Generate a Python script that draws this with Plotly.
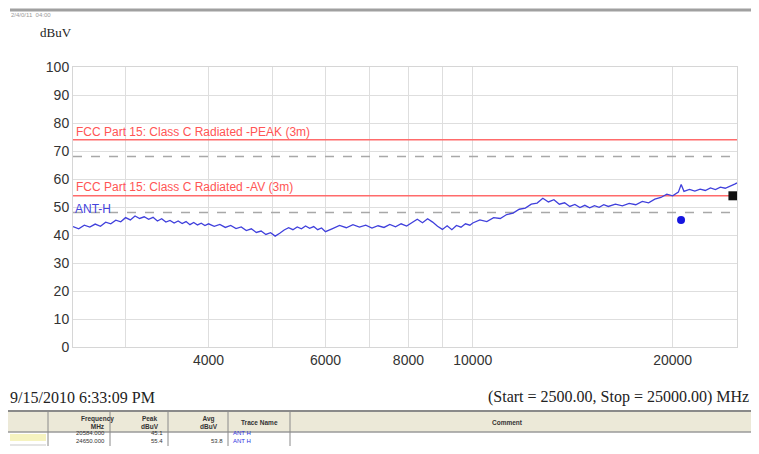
import plotly.graph_objects as go

# sweep data (ANT-H trace)
freq = [
    2500, 2550, 2600, 2650, 2700, 2750, 2800, 2850, 2900, 2950,
    3000, 3050, 3100, 3150, 3200, 3250, 3300, 3350, 3400, 3450,
    3500, 3550, 3600, 3650, 3700, 3750, 3800, 3850, 3900, 3950,
    4000, 4080, 4160, 4240, 4320, 4400, 4480, 4560, 4640, 4720,
    4800, 4880, 4960, 5040, 5120, 5200, 5280, 5360, 5440, 5520,
    5600, 5680, 5760, 5840, 5920,
    6000, 6150, 6300, 6450, 6600, 6750, 6900, 7050, 7200, 7350,
    7500, 7650, 7800, 7950, 8100, 8250, 8400, 8550, 8700, 8850,
    9000, 9150, 9300, 9450, 9600, 9750, 9900,
    10000, 10250, 10500, 10750, 11000, 11250, 11500, 11750, 12000, 12250,
    12500, 12750, 13000, 13250, 13500, 13750, 14000, 14250, 14500, 14750,
    15000, 15250, 15500, 15750,
    16000, 16400, 16800, 17200, 17600, 18000, 18400, 18800, 19200, 19600,
    20000, 20400, 20600, 20800, 21200, 21600, 22000, 22400, 22800, 23200,
    23600, 24000, 24400, 24800, 25000,
]
level = [
    43.0, 42.2, 43.5, 42.8, 43.9, 43.1, 44.6, 44.0, 45.3, 44.7,
    46.2, 45.4, 46.8, 45.9, 46.5, 45.6, 46.3, 45.0, 45.8, 44.6,
    45.2, 44.3, 45.0, 44.1, 44.8, 43.7, 44.5, 43.6, 44.2, 43.4,
    44.0, 43.1, 43.8, 42.7, 43.4, 42.3, 42.9, 41.6, 42.2, 40.9,
    41.4, 40.2, 40.8, 39.6, 40.6, 41.8, 42.6, 41.9, 42.9, 42.2,
    43.2, 42.4, 43.0, 41.9, 42.5,
    41.2, 42.3, 43.4, 42.6, 43.7, 42.8, 43.5, 42.5, 43.3, 42.7,
    43.8, 42.9, 44.0, 43.2, 44.3, 45.6, 44.4, 45.8, 44.6, 43.1,
    42.0, 43.3, 41.9, 43.4, 42.8, 44.0, 43.5,
    44.3, 45.4, 44.8, 46.2, 45.9, 47.3, 47.8, 49.2, 49.6, 51.0,
    51.4, 53.1, 51.8, 52.6, 51.0, 51.5, 50.2, 50.9, 49.8, 50.6,
    49.7, 50.5, 49.9, 50.8,
    50.2, 51.0, 50.4, 51.3, 50.8, 52.0, 51.5, 52.8, 53.4, 54.6,
    54.0, 55.3, 58.0, 55.6, 56.3, 55.7, 56.4, 55.9, 56.8, 56.2,
    57.1, 56.7, 57.6, 58.2, 58.6,
]

span = [2500, 25000]
peak_limit = 74
peak_margin = 68
av_limit = 54
av_margin = 48

# marker readings
pk_freq, pk_level = [20590], [45.4]
av_freq, av_level = [24650], [54.0]

xtick_vals = [3000, 4000, 5000, 6000, 7000, 8000, 9000, 10000, 20000]
xtick_text = ["", "4000", "", "6000", "", "8000", "", "10000", "20000"]

# table below the chart
tbl_headers = ["", "Frequency<br>MHz", "Peak<br>dBuV", "Avg<br>dBuV", "Trace Name", "Comment"]
tbl_row1 = ["", "20584.000", "45.1", "", "ANT H", ""]
tbl_row2 = ["", "24650.000", "55.4", "53.8", "ANT H", ""]
tbl_edges = [8, 48, 110, 168, 228, 290, 759]

# the page keeps an 8px body margin, so the figure is window size minus 16
W, H = 743, 438
OFF = 8


def px(x):
    # window pixel -> paper fraction
    return (x - OFF) / W


def py(y):
    return 1 - (y - OFF) / H


fig = go.Figure()

for val, col, dash in [(peak_limit, "#ff6b6b", "solid"), (peak_margin, "#a8a8a8", "dash"),
                       (av_limit, "#ff6b6b", "solid"), (av_margin, "#a8a8a8", "dash")]:
    fig.add_trace(go.Scatter(x=span, y=[val, val], mode="lines",
                             line=dict(color=col, width=1.5, dash=dash),
                             showlegend=False, hoverinfo="skip"))

fig.add_trace(go.Scatter(x=freq, y=level, mode="lines",
                         line=dict(color="#4040dc", width=1.3), showlegend=False))
fig.add_trace(go.Scatter(x=pk_freq, y=pk_level, mode="markers",
                         marker=dict(color="#1515e0", size=8, symbol="circle"),
                         showlegend=False))
fig.add_trace(go.Scatter(x=av_freq, y=av_level, mode="markers",
                         marker=dict(color="#111111", size=9, symbol="square"),
                         showlegend=False))

axis_font = dict(family="Liberation Sans, Arial", size=14, color="#333333")
fig.update_xaxes(type="log", range=[3.39794, 4.39794], domain=[px(73), px(737)],
                 tickvals=xtick_vals, ticktext=xtick_text, tickfont=axis_font,
                 showgrid=True, gridcolor="#dedede", gridwidth=1,
                 showline=True, linecolor="#d6d6d6", mirror=True,
                 ticks="", zeroline=False, automargin=False)
fig.update_yaxes(range=[0, 100], dtick=10, domain=[py(347), py(67)],
                 tickfont=axis_font, showgrid=True, gridcolor="#dedede",
                 showline=True, linecolor="#d6d6d6", mirror=True,
                 ticks="", zeroline=False, automargin=False)

serif = "Liberation Serif, Times New Roman"
sans = "Liberation Sans, Arial"
anns = [
    dict(x=px(38), y=py(33), text="dBuV", font=dict(family=serif, size=13, color="#222")),
    dict(x=px(9), y=py(15), text="2/4/0/11  04:00", font=dict(family=sans, size=6, color="#999")),
    dict(x=px(74), y=py(132), text="FCC Part 15: Class C Radiated -PEAK (3m)",
         font=dict(family=sans, size=12, color="#ff5555")),
    dict(x=px(74), y=py(187), text="FCC Part 15: Class C Radiated -AV (3m)",
         font=dict(family=sans, size=12, color="#ff5555")),
    dict(x=px(73), y=py(209), text="ANT-H", font=dict(family=sans, size=12, color="#4444dd")),
    dict(x=px(8), y=py(397), text="9/15/2010 6:33:09 PM",
         font=dict(family=serif, size=16, color="#222")),
]
for a in anns:
    a.update(xref="paper", yref="paper", xanchor="left", yanchor="middle", showarrow=False)
    fig.add_annotation(**a)
fig.add_annotation(x=px(751), y=py(397), xref="paper", yref="paper", xanchor="right",
                   yanchor="middle", showarrow=False,
                   text="(Start = 2500.00, Stop = 25000.00) MHz",
                   font=dict(family=serif, size=16, color="#222"))

# top title bar
shapes = [dict(type="line", xref="paper", yref="paper", x0=px(10), x1=1, y0=py(10), y1=py(10),
               line=dict(color="#a0a0a0", width=3))]

# table drawn by hand
shapes.append(dict(type="rect", xref="paper", yref="paper", x0=px(8), x1=1,
                   y0=py(432), y1=py(411), fillcolor="#ece9d8", line=dict(width=0)))
shapes.append(dict(type="line", xref="paper", yref="paper", x0=px(8), x1=1,
                   y0=py(411), y1=py(411), line=dict(color="#8a8a8a", width=2)))
shapes.append(dict(type="line", xref="paper", yref="paper", x0=px(8), x1=1,
                   y0=py(432), y1=py(432), line=dict(color="#9a9a9a", width=1.5)))
shapes.append(dict(type="rect", xref="paper", yref="paper", x0=px(10), x1=px(46),
                   y0=py(441), y1=py(434), fillcolor="#f6f3c0", line=dict(width=0)))
shapes.append(dict(type="rect", xref="paper", yref="paper", x0=px(10), x1=px(46),
                   y0=0, y1=py(444), fillcolor="#e4e4e4", line=dict(width=0)))
for e in tbl_edges[1:-1]:
    shapes.append(dict(type="line", xref="paper", yref="paper", x0=px(e), x1=px(e),
                       y0=0, y1=py(411), line=dict(color="#8a8a8a", width=1)))
fig.update_layout(shapes=shapes)

tfont = dict(family=sans, size=6, color="#333")
for i, h in enumerate(tbl_headers):
    if not h:
        continue
    cx = (tbl_edges[i] + tbl_edges[i + 1]) / 2
    fig.add_annotation(x=px(cx), y=py(422), xref="paper", yref="paper", showarrow=False,
                       yanchor="middle", text="<b>" + h + "</b>",
                       font=dict(family=sans, size=6.5, color="#333"))
for row, yy in [(tbl_row1, 438), (tbl_row2, 446)]:
    for i, v in enumerate(row):
        if not v:
            continue
        if i == 4:
            fig.add_annotation(x=px(tbl_edges[i] + 3), y=py(yy), xref="paper", yref="paper",
                               xanchor="left", showarrow=False, text=v,
                               font=dict(family=sans, size=6, color="#3030e0"))
        else:
            fig.add_annotation(x=px(tbl_edges[i + 1] - 3), y=py(yy), xref="paper", yref="paper",
                               xanchor="right", showarrow=False, text=v, font=tfont)

fig.update_layout(width=W, height=H, margin=dict(l=0, r=0, t=0, b=0),
                  paper_bgcolor="white", plot_bgcolor="white", showlegend=False)

fig.write_html("out.html", config={"displayModeBar": False})
